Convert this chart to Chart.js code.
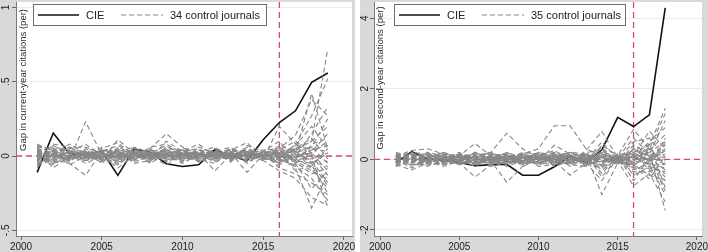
<!DOCTYPE html>
<html>
<head>
<meta charset="utf-8">
<script src="https://cdn.jsdelivr.net/npm/chart.js@4/dist/chart.umd.min.js"></script>
<style>
  html, body { margin: 0; padding: 0; background: #fff; }
  .panel { position: absolute; top: 0; }
</style>
</head>
<body>
<div class="panel" style="left:0"><canvas id="chartLeft" width="355" height="252"></canvas></div>
<div class="panel" style="left:360px"><canvas id="chartRight" width="348" height="252"></canvas></div>
<script>
// years
const yearsLeft = [2001,2002,2003,2004,2005,2006,2007,2008,2009,2010,2011,2012,2013,2014,2015,2016,2017,2018,2019];
const yearsRight = [2001,2002,2003,2004,2005,2006,2007,2008,2009,2010,2011,2012,2013,2014,2015,2016,2017,2018];
const xTicks = [2000, 2005, 2010, 2015, 2020];
const yTicksLeft = [-0.5, 0, 0.5, 1];
const yTicksRight = [-2, 0, 2, 4];
const treatYear = 2016;

const titleLeft = 'Gap in current-year citations (per)';
const titleRight = 'Gap in second-year citations (per)';
const cieLabel = 'CIE';
const controlLabelLeft = '34 control journals';
const controlLabelRight = '35 control journals';

// CIE gap, current-year citations
const cieLeft = [-0.11,0.155,0.016,0.009,0.034,-0.13,0.047,0.027,-0.052,-0.07,-0.059,0.043,0.002,-0.032,0.11,0.225,0.304,0.495,0.558];
// CIE gap, second-year citations
const cieRight = [-0.09,0.22,0.01,-0.03,-0.09,-0.18,-0.15,-0.14,-0.45,-0.45,-0.21,0.085,-0.09,0.27,1.19,0.93,1.26,4.29];

// 34 control journals (current-year)
const controlsLeft = [
  [0.05,0.02,-0.03,0.23,0.01,-0.02,0.03,0.00,-0.02,0.01,0.02,-0.01,0.00,0.03,0.01,0.02,0.05,0.10,0.72],
  [-0.04,0.08,0.06,0.02,-0.03,0.11,0.02,-0.01,0.04,-0.02,0.00,0.03,-0.02,0.01,0.00,-0.05,0.02,0.42,0.05],
  [0.02,-0.06,0.01,-0.02,0.04,0.00,-0.03,0.05,0.15,0.06,0.01,-0.03,0.02,-0.01,0.03,0.01,-0.08,-0.35,-0.12],
  [-0.02,0.03,-0.04,0.05,0.00,-0.04,0.06,0.02,-0.01,0.03,0.08,0.00,0.04,0.09,-0.02,0.20,0.08,0.27,0.52],
  [0.07,0.04,0.02,-0.01,0.02,0.03,-0.02,0.01,0.05,-0.03,-0.01,0.02,0.01,-0.03,0.02,0.03,0.05,0.00,-0.35],
  [-0.06,-0.03,0.00,0.03,-0.05,0.06,0.01,-0.03,0.02,0.04,-0.02,-0.05,0.03,0.01,-0.01,-0.02,-0.07,-0.15,-0.30],
  [0.03,0.01,0.08,0.02,0.01,-0.01,0.04,0.03,-0.04,0.00,0.03,0.06,-0.01,0.02,0.04,0.05,0.14,0.38,0.27],
  [0.01,-0.02,-0.05,-0.13,0.03,0.02,-0.01,0.06,0.08,0.02,-0.04,0.01,0.05,-0.02,0.00,0.07,0.03,-0.05,-0.20],
  [-0.08,0.05,0.03,0.00,-0.02,-0.06,0.02,0.04,0.01,-0.05,0.01,0.04,-0.03,0.05,0.02,-0.08,-0.12,-0.18,-0.26],
  [0.04,0.00,-0.02,0.04,0.05,0.09,0.00,-0.02,0.10,0.03,0.05,-0.02,0.02,0.00,-0.03,0.00,0.04,0.10,0.20],
  [-0.03,0.06,0.04,-0.03,0.01,0.01,0.05,0.00,-0.06,0.01,-0.03,0.03,0.06,-0.04,0.01,0.04,-0.03,-0.10,-0.16],
  [0.06,-0.05,-0.01,0.01,-0.04,-0.03,0.03,0.02,0.03,-0.01,0.02,-0.10,0.01,0.03,-0.02,-0.04,0.06,0.05,0.03],
  [0.00,0.02,0.05,0.06,0.02,0.04,-0.05,-0.03,0.06,0.02,0.00,0.02,-0.04,0.07,0.03,0.10,-0.05,-0.22,-0.10],
  [-0.05,-0.01,0.02,-0.05,0.00,-0.01,0.01,0.05,-0.02,0.05,0.04,0.00,0.02,-0.11,0.01,-0.03,0.02,0.06,-0.05],
  [0.08,0.03,-0.03,0.02,0.03,0.07,0.02,-0.04,0.01,-0.02,-0.01,0.05,0.00,0.02,-0.01,0.02,-0.10,-0.06,-0.25],
  [-0.01,-0.04,0.00,0.01,-0.01,-0.05,0.03,0.01,0.04,0.01,0.02,-0.03,0.03,0.04,0.00,-0.06,0.00,0.15,0.33],
  [0.02,0.07,0.01,-0.02,0.04,0.02,-0.03,0.03,-0.01,0.03,-0.04,0.01,-0.02,0.01,0.02,0.04,0.10,0.02,0.10],
  [-0.07,0.01,-0.02,0.03,-0.03,0.00,0.02,-0.05,0.02,-0.04,0.06,0.02,0.01,-0.01,-0.02,-0.01,-0.04,-0.12,-0.08],
  [0.05,-0.03,0.03,0.08,0.00,-0.08,0.00,0.02,0.07,0.00,0.01,-0.02,0.05,0.02,0.01,0.01,0.07,0.20,0.05],
  [0.00,0.04,-0.06,0.00,0.02,0.05,-0.04,0.00,-0.03,0.02,-0.02,0.04,-0.01,0.06,-0.03,-0.10,-0.15,-0.28,-0.33],
  [-0.04,0.00,0.04,-0.04,0.06,-0.02,0.01,0.04,0.00,-0.03,0.03,0.00,0.03,-0.05,0.02,0.05,0.01,-0.02,0.02],
  [0.03,-0.08,0.00,0.02,-0.02,0.03,0.06,-0.01,0.05,0.04,0.00,0.03,-0.03,0.00,0.01,-0.02,-0.06,0.08,0.12],
  [-0.02,0.02,0.06,-0.01,0.01,-0.04,-0.02,0.02,-0.04,0.02,0.01,-0.04,0.02,0.03,-0.01,0.03,0.02,-0.03,-0.18],
  [0.06,0.05,-0.02,0.04,-0.01,0.01,0.03,-0.03,0.03,-0.01,0.04,0.01,0.00,-0.02,0.03,-0.05,0.05,0.12,-0.02],
  [-0.05,-0.02,0.02,0.01,0.03,-0.01,0.00,0.03,0.01,0.01,-0.01,0.02,0.04,0.02,0.00,0.01,-0.02,-0.07,0.05],
  [0.01,0.03,-0.01,-0.03,-0.01,0.04,0.02,-0.02,0.02,0.03,0.02,-0.01,-0.02,0.01,0.02,0.02,0.03,0.00,-0.13],
  [0.04,-0.01,0.03,0.02,0.02,-0.03,-0.01,0.01,-0.02,-0.02,0.00,0.03,0.01,-0.01,-0.01,-0.03,-0.01,0.04,0.07],
  [-0.03,0.04,-0.01,-0.02,0.00,0.02,0.04,0.00,0.03,0.00,-0.02,0.00,-0.01,0.03,0.01,0.00,0.04,-0.09,-0.22],
  [0.02,0.00,0.02,0.03,-0.03,0.00,-0.01,0.02,0.00,0.02,0.03,-0.02,0.02,0.00,-0.02,0.04,-0.05,0.03,0.15],
  [-0.01,-0.05,0.04,0.00,0.04,0.02,0.01,-0.01,0.01,-0.01,-0.03,0.02,0.00,0.04,0.00,-0.01,0.01,-0.04,-0.07],
  [0.07,0.01,0.00,-0.01,-0.02,-0.01,0.02,0.04,-0.01,0.04,0.01,0.01,0.03,-0.03,0.03,0.02,-0.02,0.06,0.25],
  [-0.06,0.02,-0.03,0.02,0.01,0.03,-0.02,-0.02,0.04,0.00,0.00,0.01,-0.02,0.02,-0.02,-0.02,0.08,0.01,-0.04],
  [0.00,-0.01,0.01,-0.01,-0.01,0.00,0.01,0.01,-0.01,0.01,0.02,-0.01,0.01,0.00,0.01,0.00,-0.03,-0.05,0.02],
  [0.03,0.02,0.00,0.00,0.01,0.01,0.00,-0.01,0.02,-0.02,0.00,0.02,0.00,0.01,0.00,0.01,0.00,0.02,-0.10]
];

// 35 control journals (second-year)
const controlsRight = [
  [0.10,0.25,0.30,0.15,0.05,-0.10,0.05,0.10,-0.05,0.10,0.20,0.05,-0.10,0.15,0.05,0.20,0.40,1.45],
  [-0.15,-0.30,-0.10,0.05,0.10,0.45,0.10,-0.05,0.10,-0.10,0.05,0.10,0.00,-0.20,0.05,-0.10,0.20,-1.45],
  [0.05,0.10,-0.05,-0.20,-0.05,0.05,0.20,0.74,0.30,0.05,-0.10,0.00,0.10,0.05,-0.05,0.10,-0.20,0.60],
  [-0.05,0.05,0.15,0.10,-0.10,-0.50,-0.15,0.05,0.15,0.30,0.95,0.95,0.30,0.10,0.00,-0.15,0.05,-0.30],
  [0.15,0.00,-0.10,0.05,0.15,0.10,-0.05,-0.65,-0.20,0.05,0.10,-0.05,0.15,-1.00,-0.10,0.30,0.10,-0.90],
  [-0.10,0.15,0.05,-0.05,0.00,0.15,0.05,0.15,-0.10,-0.05,0.40,0.15,-0.15,0.20,0.10,0.85,0.30,1.30],
  [0.00,-0.10,0.20,0.10,0.05,-0.05,-0.10,0.00,0.20,0.15,-0.05,-0.45,-0.10,0.10,-0.05,-0.75,-0.40,-1.20],
  [0.20,0.05,-0.05,-0.15,0.10,0.05,0.15,-0.10,0.05,-0.15,0.10,0.20,0.05,-0.30,0.00,0.10,0.80,0.30],
  [-0.20,-0.05,0.10,0.15,-0.05,0.20,0.00,0.10,-0.15,0.10,-0.05,-0.10,0.25,0.79,0.05,-0.20,-0.55,0.10],
  [0.05,0.20,0.00,-0.10,0.15,-0.15,0.05,0.05,0.10,-0.05,0.15,0.05,-0.05,0.30,-0.10,0.40,0.15,1.10],
  [-0.05,-0.15,-0.15,0.05,-0.15,0.00,0.10,-0.15,0.00,0.20,-0.10,0.15,0.10,-0.40,0.10,-0.30,-0.10,-0.60],
  [0.10,0.10,0.05,0.20,0.05,-0.10,-0.05,0.20,0.05,0.00,0.05,-0.15,-0.20,0.05,-0.05,0.05,0.50,0.90],
  [-0.15,0.00,-0.20,-0.05,-0.05,0.10,0.20,0.00,-0.05,0.10,0.25,0.00,0.05,-0.15,0.15,-0.45,-0.20,-0.40],
  [0.00,0.15,0.10,0.00,0.20,-0.05,-0.15,0.05,0.15,-0.20,-0.15,0.10,-0.05,0.50,0.00,0.20,-0.05,0.25],
  [0.15,-0.20,0.00,0.10,-0.10,0.20,0.00,-0.05,-0.10,0.05,0.00,0.20,0.15,-0.10,0.05,-0.05,0.35,-0.20],
  [-0.10,0.05,0.20,-0.10,0.00,-0.20,0.05,0.10,0.05,0.15,-0.20,-0.05,0.00,0.10,-0.15,0.15,-0.30,-0.75],
  [0.05,-0.05,-0.05,0.15,0.10,0.05,-0.20,-0.10,0.20,-0.10,0.05,0.05,-0.15,-0.05,0.10,-0.60,0.05,0.45],
  [-0.05,0.10,0.05,-0.15,-0.05,-0.10,0.10,0.15,-0.20,0.00,0.15,-0.10,0.20,0.25,-0.05,0.50,0.60,0.05],
  [0.10,-0.10,-0.10,0.00,0.05,0.15,0.15,-0.15,0.10,0.05,-0.05,0.10,-0.10,-0.60,0.05,0.05,-0.15,-1.00],
  [-0.15,0.20,0.15,0.05,-0.15,0.00,-0.05,0.05,0.00,-0.15,0.10,-0.20,0.05,0.15,0.00,-0.20,0.25,0.70],
  [0.05,0.05,-0.15,-0.10,0.15,-0.15,0.00,0.20,-0.05,0.20,0.00,0.05,0.20,-0.20,-0.10,0.30,-0.05,-0.50],
  [0.00,-0.25,0.00,0.20,0.00,0.05,0.20,-0.05,0.15,0.00,-0.15,0.15,-0.20,0.40,0.10,0.00,0.10,0.15],
  [-0.10,0.00,0.10,-0.05,-0.10,-0.05,-0.10,0.00,0.05,-0.05,0.20,-0.05,0.10,0.05,-0.05,-0.35,-0.35,-0.10],
  [0.15,0.15,-0.05,0.05,0.10,0.10,0.05,-0.20,-0.05,0.10,-0.10,0.00,-0.05,-0.25,0.15,0.15,0.00,0.40],
  [-0.05,-0.05,0.00,-0.15,-0.05,0.20,-0.05,0.10,0.10,-0.10,0.05,0.20,0.00,0.35,-0.10,-0.10,0.45,-0.80],
  [0.05,0.10,0.10,0.10,0.05,-0.15,0.10,-0.05,-0.10,0.15,-0.05,-0.15,0.15,-0.50,0.05,0.60,0.15,0.20],
  [-0.20,0.05,-0.10,0.00,0.15,0.05,-0.05,0.05,0.15,0.05,0.10,0.10,-0.15,0.10,0.00,-0.25,-0.25,-0.35],
  [0.10,-0.05,0.05,-0.10,-0.10,-0.05,0.15,0.10,-0.15,-0.05,-0.10,-0.10,0.10,-0.10,0.10,0.10,0.20,0.50],
  [0.00,0.00,-0.05,0.10,0.00,0.10,-0.10,-0.10,0.05,0.10,0.15,0.05,0.05,0.20,-0.05,-0.05,-0.10,-0.25],
  [-0.05,0.15,0.05,-0.05,0.10,0.00,0.00,0.00,-0.05,-0.10,-0.15,-0.05,-0.05,-0.15,0.05,0.25,0.10,0.05],
  [0.10,-0.15,-0.05,0.05,-0.10,-0.10,0.10,0.05,0.10,0.00,0.00,0.15,0.10,0.00,-0.10,-0.15,-0.45,-0.60],
  [-0.10,0.05,0.00,-0.05,0.05,0.05,-0.15,-0.05,-0.10,0.20,0.10,-0.10,-0.10,0.15,0.05,0.05,0.00,0.30],
  [0.05,-0.10,0.15,0.00,-0.05,-0.10,0.05,0.15,0.00,-0.15,-0.05,0.00,0.15,-0.05,-0.05,-0.05,0.30,-0.15],
  [0.00,0.05,-0.05,0.05,0.05,0.00,-0.05,-0.10,0.05,0.05,0.05,-0.05,0.00,0.05,0.00,0.10,-0.05,0.00],
  [-0.05,0.00,0.05,-0.05,-0.05,0.05,0.00,0.05,-0.05,0.00,-0.05,0.05,-0.05,-0.05,0.05,0.00,0.05,-0.05]
];

const FONT = '"Liberation Sans", Arial, sans-serif';
const RED = '#e0457a';
const GRAY = '#878787';

function stataNum(v) {
  return String(v).replace(/^(-?)0\./, '$1.');
}

// gray outer region, white plot region
const backdrop = {
  id: 'backdrop',
  beforeDraw(chart) {
    const { ctx, chartArea: a } = chart;
    ctx.save();
    ctx.fillStyle = '#d9d9d9';
    ctx.fillRect(0, 0, chart.width, chart.height);
    ctx.fillStyle = '#fff';
    ctx.fillRect(a.left, a.top, a.right - a.left, a.bottom - a.top);
    ctx.restore();
  }
};

// red dashed reference lines (x = 2016, y = 0), behind the series
const refLines = {
  id: 'refLines',
  beforeDatasetsDraw(chart) {
    const { ctx, chartArea: a, scales: { x, y } } = chart;
    const px = x.getPixelForValue(treatYear);
    const py = y.getPixelForValue(0);
    ctx.save();
    ctx.strokeStyle = RED;
    ctx.lineWidth = 1.3;
    ctx.setLineDash([6, 4]);
    ctx.beginPath();
    ctx.moveTo(px, a.top); ctx.lineTo(px, a.bottom);
    ctx.moveTo(a.left, py); ctx.lineTo(a.right, py);
    ctx.stroke();
    ctx.restore();
  }
};

// y title inside the plot region and boxed legend, Stata style
const decor = {
  id: 'decor',
  afterDraw(chart, args, opts) {
    const { ctx } = chart;
    ctx.save();
    ctx.fillStyle = '#2a2a2a';
    ctx.font = '9.5px ' + FONT;
    ctx.textAlign = 'center';
    ctx.textBaseline = 'middle';
    ctx.translate(opts.titleX, opts.titleY);
    ctx.rotate(-Math.PI / 2);
    ctx.fillText(opts.title, 0, 0);
    ctx.restore();

    const ds = chart.data.datasets;
    const b = opts.box;
    ctx.save();
    ctx.fillStyle = '#fff';
    ctx.fillRect(b.x, b.y, b.w, b.h);
    ctx.strokeStyle = '#6e6e6e';
    ctx.lineWidth = 1;
    ctx.strokeRect(b.x + 0.5, b.y + 0.5, b.w, b.h);
    const cy = b.y + b.h / 2 + 0.5;
    ctx.strokeStyle = '#111';
    ctx.lineWidth = 1.6;
    ctx.beginPath(); ctx.moveTo(b.x + 5, cy); ctx.lineTo(b.x + 46, cy); ctx.stroke();
    ctx.strokeStyle = GRAY;
    ctx.lineWidth = 1.1;
    ctx.setLineDash([5, 3]);
    ctx.beginPath(); ctx.moveTo(b.x + 88, cy); ctx.lineTo(b.x + 130, cy); ctx.stroke();
    ctx.setLineDash([]);
    ctx.fillStyle = '#222';
    ctx.font = '11px ' + FONT;
    ctx.textAlign = 'left';
    ctx.textBaseline = 'middle';
    ctx.fillText(ds[ds.length - 1].label, b.x + 53, cy + 0.5);
    ctx.fillText(ds[0].label, b.x + 137, cy + 0.5);
    ctx.restore();
  }
};

function makeChart(id, years, cie, controls, controlLabel, yMin, yMax, yTicks, xMin, xMax, pad, decorOpts) {
  const datasets = controls.map(row => ({
    label: controlLabel,
    data: row.map((v, j) => ({ x: years[j], y: v })),
    borderColor: GRAY,
    borderWidth: 1.1,
    borderDash: [5, 3],
    pointRadius: 0,
    tension: 0
  }));
  datasets.push({
    label: cieLabel,
    data: cie.map((v, j) => ({ x: years[j], y: v })),
    borderColor: '#111',
    borderWidth: 1.6,
    pointRadius: 0,
    tension: 0
  });

  return new Chart(document.getElementById(id), {
    type: 'line',
    data: { datasets },
    options: {
      responsive: false,
      animation: false,
      layout: { padding: pad },
      plugins: { legend: { display: false }, tooltip: { enabled: false }, decor: decorOpts },
      scales: {
        x: {
          type: 'linear',
          min: xMin,
          max: xMax,
          afterBuildTicks: s => { s.ticks = xTicks.map(v => ({ value: v })); },
          afterFit: s => { s.height = 16; s.paddingLeft = 0; s.paddingRight = 0; },
          border: { color: '#7a7a7a', width: 1 },
          grid: { drawOnChartArea: false, drawTicks: true, tickLength: 4, tickColor: '#666' },
          ticks: {
            padding: 1,
            maxRotation: 0,
            autoSkip: false,
            color: '#222',
            font: { family: FONT, size: 10 },
            callback: v => String(v)
          }
        },
        y: {
          min: yMin,
          max: yMax,
          afterBuildTicks: s => { s.ticks = yTicks.map(v => ({ value: v })); },
          afterFit: s => { s.width = pad.yWidth; s.paddingTop = 0; s.paddingBottom = 0; },
          border: { color: '#7a7a7a', width: 1 },
          grid: { color: '#e4eef0', lineWidth: 1, drawTicks: true, tickLength: 4, tickColor: '#666' },
          ticks: {
            padding: 0,
            minRotation: 90,
            maxRotation: 90,
            crossAlign: 'center',
            autoSkip: false,
            color: '#222',
            font: { family: FONT, size: 10 },
            callback: v => stataNum(v)
          }
        }
      }
    },
    plugins: [backdrop, refLines, decor]
  });
}

makeChart('chartLeft', yearsLeft, cieLeft, controlsLeft, controlLabelLeft,
  -0.538, 1.036, yTicksLeft, 1999.69, 2020.5,
  { left: 0, top: 2, right: 3, bottom: 0, yWidth: 16 },
  { title: titleLeft, titleX: 23, titleY: 80, box: { x: 33, y: 4, w: 233, h: 21 } });

makeChart('chartRight', yearsRight, cieRight, controlsRight, controlLabelRight,
  -2.17, 4.456, yTicksRight, 1999.62, 2020.32,
  { left: 0, top: 2, right: 6, bottom: 0, yWidth: 14 },
  { title: titleRight, titleX: 20, titleY: 78, box: { x: 34, y: 4, w: 231, h: 21 } });
</script>
</body>
</html>
